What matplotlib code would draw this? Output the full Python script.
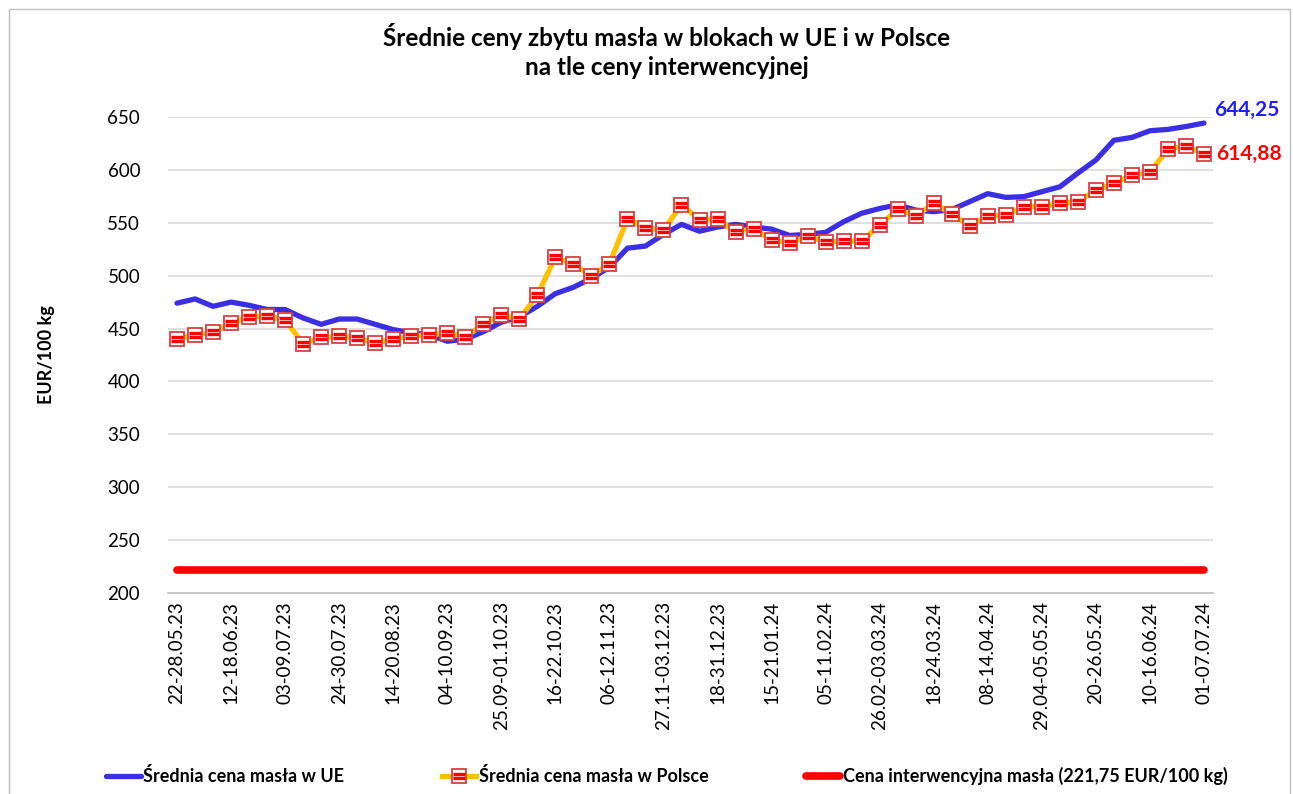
"""Średnie ceny zbytu masła w blokach w UE i w Polsce na tle ceny interwencyjnej."""

import matplotlib
matplotlib.use("Agg")
import matplotlib.pyplot as plt
from matplotlib.path import Path
from matplotlib.patches import Rectangle

plt.rcParams.update({
    "font.family": ["Lato", "DejaVu Sans"],
    "font.size": 12,
})

# ---- data (EUR/100 kg), weekly notowania 22-28.05.23 .. 01-07.07.24 ----
tick_labels = [
    "22-28.05.23", "12-18.06.23", "03-09.07.23", "24-30.07.23", "14-20.08.23",
    "04-10.09.23", "25.09-01.10.23", "16-22.10.23", "06-12.11.23", "27.11-03.12.23",
    "18-31.12.23", "15-21.01.24", "05-11.02.24", "26.02-03.03.24", "18-24.03.24",
    "08-14.04.24", "29.04-05.05.24", "20-26.05.24", "10-16.06.24", "01-07.07.24",
]
eu_price = [
    474, 478, 471, 475, 472, 468, 468, 460, 454, 459,
    459, 454, 449, 446, 444, 438, 440, 447, 456, 461,
    471, 483, 489, 497.5, 508, 526, 528, 539, 548.5, 542,
    546, 548.5, 546, 544, 538, 539, 541, 551, 559, 563.5,
    567, 562, 560.5, 562.5, 570, 577.5, 574, 574.7, 579.4, 584,
    597, 609.3, 628, 630.7, 637, 638.3, 641, 644.25,
]
pl_price = [
    440.4, 444.2, 446.4, 455, 461, 462, 458, 435.7, 441.7, 442.7,
    441.4, 436.3, 440.1, 443, 444, 445.8, 442, 454.3, 462.5, 459,
    481.4, 517.6, 510.7, 500, 511, 553.6, 545.4, 542.9, 567.1, 553,
    553.3, 541.6, 544.4, 534, 530.9, 537.5, 531.8, 532.5, 532.8, 547.5,
    562.7, 556.4, 568.4, 558.3, 546.9, 556.4, 557.1, 565.2, 565.2, 568.4,
    569.9, 581, 587.3, 594.9, 598, 619.4, 622.9, 614.88,
]
intervention = [221.75] * len(eu_price)

BLUE = "#3A2FE3"
GOLD = "#FFC000"
RED = "#FF0000"


def main():
    fig = plt.figure(figsize=(12.93, 7.94), dpi=100)
    ax = fig.add_axes([168 / 1293, 1 - 593 / 794, (1213 - 168) / 1293, (593 - 117) / 794])

    xs = list(range(len(eu_price)))

    for y in range(250, 651, 50):
        ax.axhline(y, color="#D9D9D9", linewidth=1.2, zorder=0)

    red_line, = ax.plot(xs, intervention, color=RED, linewidth=5.5,
                        solid_capstyle="round", zorder=2)
    blue_line, = ax.plot(xs, eu_price, color=BLUE, linewidth=3.8,
                         solid_capstyle="round", solid_joinstyle="round", zorder=3)
    gold_line, = ax.plot(xs, pl_price, color=GOLD, linewidth=3.8,
                         marker="s", markersize=10, markerfacecolor="white",
                         markeredgecolor="#D94040", markeredgewidth=1.3,
                         solid_joinstyle="round", zorder=4)
    stripes = Path([(-1, 0.33), (1, 0.33), (-1, -0.33), (1, -0.33)],
                   [Path.MOVETO, Path.LINETO, Path.MOVETO, Path.LINETO])
    stripe_marks, = ax.plot(xs, pl_price, linestyle="none", marker=stripes,
                            markersize=8, markeredgecolor=RED, markeredgewidth=2.4,
                            zorder=5)

    # end-value labels
    ax.annotate(f"{eu_price[-1]:.2f}".replace(".", ","), xy=(xs[-1], eu_price[-1]),
                xytext=(10, 13), textcoords="offset pixels", va="center", ha="left",
                color="#1F1FF0", fontsize=15, fontweight="bold", annotation_clip=False)
    ax.annotate(f"{pl_price[-1]:.2f}".replace(".", ","), xy=(xs[-1], pl_price[-1]),
                xytext=(12, 0), textcoords="offset pixels", va="center", ha="left",
                color=RED, fontsize=15, fontweight="bold", annotation_clip=False)

    ax.set_xlim(-0.5, len(xs) - 0.5)
    ax.set_ylim(200, 650)
    ax.set_yticks(range(200, 651, 50))
    ax.set_xticks(range(0, len(xs), 3))
    ax.set_xticklabels(tick_labels, rotation=90, fontsize=13.5)
    ax.tick_params(axis="y", length=0, pad=20, labelsize=13.5)
    ax.tick_params(axis="x", length=0, pad=6)
    for s in ("top", "right", "left"):
        ax.spines[s].set_visible(False)
    ax.spines["bottom"].set_color("#BFBFBF")
    ax.spines["bottom"].set_linewidth(1.2)

    ax.set_ylabel("EUR/100 kg", fontsize=13, fontweight="bold", labelpad=38)

    fig.text(667 / 1293, 1 - 51 / 794,
             "Średnie ceny zbytu masła w blokach w UE i w Polsce\nna tle ceny interwencyjnej",
             ha="center", va="center", fontsize=17.5, fontweight="bold", linespacing=1.3)

    fig.legend(handles=[blue_line, (gold_line, stripe_marks), red_line],
               labels=["Średnia cena masła w UE", "Średnia cena masła w Polsce",
                       "Cena interwencyjna masła (221,75 EUR/100 kg)"],
               loc="center", bbox_to_anchor=(667 / 1293, 1 - 776 / 794), ncol=3,
               frameon=False, handlelength=1.9, handletextpad=0.15, columnspacing=5.4,
               prop={"weight": "bold", "size": 13})

    # outer chart border
    fig.patches.append(Rectangle((9 / 1293, -0.02), (1290 - 9) / 1293, 1.02 - 9 / 794,
                                 transform=fig.transFigure, fill=False,
                                 edgecolor="#BFBFBF", linewidth=1.0))

    fig.savefig("out.png", dpi=100)
    plt.close(fig)


if __name__ == "__main__":
    main()
